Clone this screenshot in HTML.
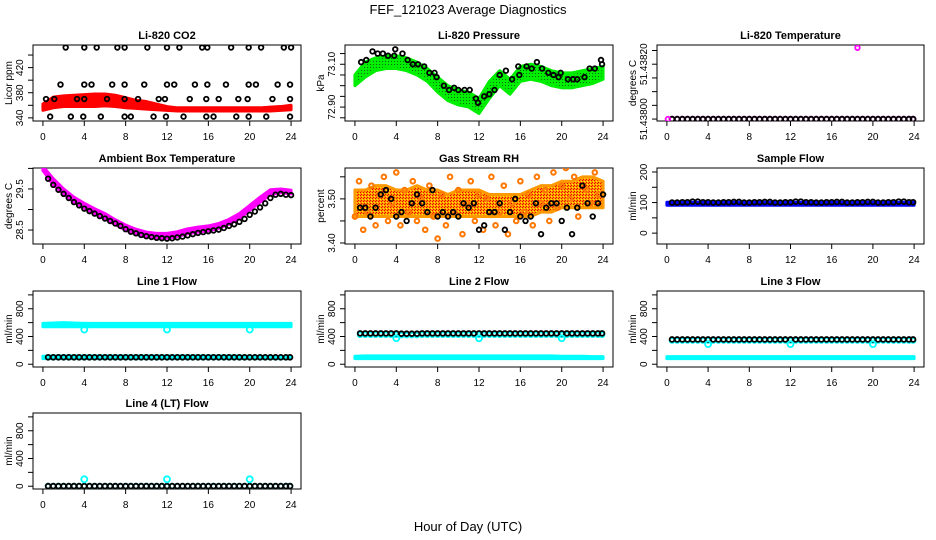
<!DOCTYPE html>
<html><head><meta charset="utf-8"><style>
html,body{margin:0;padding:0;background:#fff}
svg{display:block}
text{font-family:"Liberation Sans",sans-serif;fill:#000}
</style></head><body>
<svg id="chart" width="936" height="540" viewBox="0 0 936 540" xmlns="http://www.w3.org/2000/svg">
<defs>
<pattern id="pGreen" width="3" height="3" patternUnits="userSpaceOnUse"><rect width="3" height="3" fill="#00ee00"/><rect x="1" y="1" width="1" height="1" fill="#116611"/></pattern>
<pattern id="pRH" width="3" height="3" patternUnits="userSpaceOnUse"><rect width="3" height="3" fill="#ff9900"/><rect x="0" y="0" width="1" height="1" fill="#ee0000"/><rect x="1" y="2" width="1" height="1" fill="#ee0000"/><rect x="2" y="1" width="1" height="1" fill="#ffee00"/></pattern>
</defs>
<text x="468" y="14" font-size="13" text-anchor="middle">FEF_121023  Average Diagnostics</text>
<text x="468" y="531" font-size="13" text-anchor="middle">Hour of Day (UTC)</text>
</svg>
<script>
// ---------- data ----------
const hourTicks = [0,4,8,12,16,20,24];
const bandHours = [0,1,2,3,4,5,6,7,8,9,10,11,12,13,14,15,16,17,18,19,20,21,22,23,24];

const co2Lo = [352,356,358,358,358,358,359,358,356,355,354,353,352,351,351,351,351,351,351,351,351,351,351,352,353];
const co2Hi = [362,373,375,376,377,378,378,376,372,368,366,362,358,356,356,356,356,356,356,356,356,356,357,358,360];
const co2PtsHours = [2.2,4.0,5.2,7.2,7.9,10.1,12.0,13.2,15.4,15.9,18.2,19.9,21.1,23.3,24.0, 1.7,4.0,4.7,6.7,7.9,9.8,12.0,12.7,14.7,15.9,17.7,19.9,20.6,22.7,23.9, 0.3,1.1,3.3,4.0,6.2,7.9,9.2,11.2,11.8,14.2,15.8,17.0,18.9,19.8,22.2,23.9, 0.7,2.7,3.9,5.6,7.9,8.5,10.7,11.9,13.6,15.8,16.5,18.7,19.9,21.6,23.9];
const co2PtsVals = [452,452,452,452,452,452,452,452,452,452,452,452,452,452,452, 393,393,393,393,393,393,393,393,393,393,393,393,393,393,393, 370,370,370,370,370,370,370,370,370,370,370,370,370,370,370,370, 342,342,342,342,342,342,342,342,342,342,342,342,342,342,342];

const presLo = [73.00,73.04,73.07,73.08,73.08,73.07,73.05,73.02,72.97,72.93,72.91,72.90,72.87,72.94,73.00,72.96,73.02,73.03,73.02,73.00,72.99,72.99,73.00,73.01,73.03];
const presHi = [73.05,73.11,73.13,73.14,73.14,73.13,73.11,73.08,73.04,73.00,72.98,72.97,72.94,73.02,73.07,73.03,73.09,73.10,73.09,73.07,73.06,73.06,73.07,73.08,73.09];
const presPtsHours = [0.6,1.1,1.7,2.2,2.7,3.2,3.8,3.9,4.6,5.1,5.6,6.1,6.7,7.2,7.7,7.9,8.6,9.1,9.6,10.0,10.6,11.1,11.7,11.9,12.5,13.0,13.5,14.0,14.6,15.2,15.8,15.9,16.6,17.1,17.6,18.1,18.7,19.2,19.7,19.9,20.6,21.1,21.5,22.2,22.7,23.2,23.8,23.9];
const presPtsVals = [73.11,73.12,73.16,73.15,73.15,73.14,73.14,73.17,73.15,73.12,73.10,73.10,73.09,73.06,73.06,73.04,73.00,72.98,72.99,72.98,72.98,72.98,72.94,72.92,72.95,72.96,72.98,73.05,73.07,73.03,73.09,73.05,73.09,73.08,73.11,73.08,73.06,73.05,73.04,73.06,73.03,73.03,73.03,73.04,73.08,73.08,73.12,73.10];

const tempVals = [51.438,51.438,51.438,51.438,51.438,51.438,51.438,51.438,51.438,51.438,51.438,51.438,51.438,51.438,51.438,51.438,51.438,51.438,51.438,51.438,51.438,51.438,51.438,51.438];
const tempOutlierHours = [0.1,18.5];
const tempOutlierVals = [51.438,51.43826];

const ambLo = [29.95,29.6,29.38,29.18,29.03,28.9,28.78,28.63,28.5,28.4,28.33,28.3,28.3,28.34,28.41,28.45,28.48,28.54,28.64,28.78,28.98,29.18,29.36,29.41,29.38];
const ambHi = [30.05,29.75,29.5,29.3,29.15,29.02,28.9,28.75,28.62,28.52,28.45,28.42,28.42,28.46,28.53,28.57,28.6,28.66,28.76,28.9,29.1,29.3,29.48,29.5,29.47];
const ambPts = [29.75,29.6,29.48,29.38,29.28,29.18,29.1,29.02,28.96,28.9,28.84,28.78,28.72,28.66,28.6,28.52,28.46,28.42,28.38,28.35,28.33,28.31,28.3,28.29,28.3,28.32,28.34,28.37,28.4,28.43,28.45,28.47,28.49,28.51,28.55,28.6,28.64,28.7,28.77,28.87,28.95,29.05,29.15,29.28,29.36,29.38,29.36,29.35];

const rhLo = [3.46,3.46,3.46,3.46,3.46,3.46,3.46,3.46,3.46,3.46,3.46,3.46,3.46,3.46,3.46,3.46,3.46,3.46,3.47,3.47,3.48,3.48,3.48,3.48,3.48];
const rhHi = [3.52,3.52,3.53,3.53,3.52,3.52,3.53,3.52,3.52,3.51,3.52,3.52,3.52,3.51,3.51,3.51,3.51,3.52,3.53,3.53,3.54,3.54,3.55,3.55,3.54];
const rhScatter = [3.46,3.54,3.43,3.47,3.53,3.44,3.51,3.55,3.45,3.49,3.56,3.44,3.52,3.47,3.54,3.45,3.50,3.43,3.53,3.46,3.41,3.51,3.44,3.55,3.47,3.52,3.42,3.49,3.54,3.45,3.51,3.43,3.50,3.55,3.44,3.47,3.53,3.42,3.49,3.45,3.54,3.47,3.51,3.44,3.55,3.49,3.52,3.45,3.56,3.48,3.53,3.57,3.50,3.55,3.46,3.58,3.52,3.49,3.56,3.51];
const rhPts = [3.48,3.48,3.46,3.48,3.51,3.52,3.50,3.46,3.47,3.45,3.49,3.51,3.49,3.47,3.52,3.46,3.47,3.46,3.47,3.46,3.49,3.48,3.49,3.43,3.44,3.47,3.47,3.49,3.43,3.47,3.50,3.46,3.45,3.46,3.49,3.42,3.48,3.49,3.49,3.45,3.48,3.42,3.48,3.53,3.49,3.46,3.49,3.51];

const sampleLo = [91,91,91,91,91,91,91,91,91,91,91,91,91,91,91,91,91,91,91,91,91,91,91,91,91];
const sampleHi = [101,101,101,101,101,101,101,101,101,101,101,101,101,101,101,101,101,101,101,101,101,101,101,101,101];
const samplePts = [100,101,103,101,100,101,102,100,101,102,100,101,103,101,100,101,102,100,101,102,100,101,103,101];

const line1CyanLo = [540,540,540,540,540,540,540,540,540,540,540,540,540,540,540,540,540,540,540,540,540,540,540,540,540];
const line1CyanHi = [590,595,600,595,590,590,590,590,590,590,590,590,590,590,590,590,590,590,590,590,590,590,590,590,590];
const line1Black = [100,100,100,100,100,100,100,100,100,100,100,100,100,100,100,100,100,100,100,100,100,100,100,100];
const line2CyanLo = [80,80,80,80,80,80,80,80,80,80,80,80,80,80,80,80,80,80,80,80,80,80,80,80,80];
const line2CyanHi = [115,120,120,120,120,120,120,120,120,120,120,120,120,120,120,120,120,120,120,120,115,115,115,110,110];
const line2Black = [445,445,445,445,440,440,445,445,445,445,445,445,445,445,445,445,445,445,445,445,445,445,445,445];
const line3CyanLo = [80,80,80,80,80,80,80,80,80,80,80,80,80,80,80,80,80,80,80,80,80,80,80,80,80];
const line3CyanHi = [110,110,110,110,110,110,110,110,110,110,110,110,110,110,110,110,110,110,110,110,110,110,110,110,110];
const line3Black = [357,357,357,357,357,357,357,357,357,357,357,357,357,357,357,357,357,357,357,357,357,357,357,357];
const line4Black = [2,2,2,2,2,2,2,2,2,2,2,2,2,2,2,2,2,2,2,2,2,2,2,2];
const outlierHours = [4,12,20];
const line1Outliers = [500,500,500];
const line2Outliers = [375,375,375];
const line3Outliers = [290,290,290];
const line4Outliers = [100,100,100];

// ---------- drawing ----------
const svg = document.getElementById('chart');
const NS = 'http://www.w3.org/2000/svg';
function mk(tag, attrs, parent){ const e=document.createElementNS(NS,tag); for(const k in attrs) e.setAttribute(k,attrs[k]); (parent||svg).appendChild(e); return e; }

const cols = [[33,301],[345,613],[657,924]];
const rows = [[45,121],[168,244],[291,367],[413,489]];

function makePanel(name, c, r, ylim, ticks, labels, title, ylab){
  const [L,R] = cols[c], [T,B] = rows[r];
  const g = mk('g',{});
  
  
  const x = h => L + (h + 0.96) / 25.92 * (R - L);
  const y = v => B - (v - ylim[0]) / (ylim[1] - ylim[0]) * (B - T);
  const t = mk('text',{x:(L+R)/2, y:T-6, 'font-size':11, 'font-weight':'bold', 'text-anchor':'middle'}, g);
  t.textContent = title;
  
  
  const box = mk('rect',{x:L,y:T,width:R-L,height:B-T,fill:'none',stroke:'#000','stroke-width':1}, g);
  
  
  const xa = mk('g',{}, g);
  
  
  mk('line',{x1:x(0),x2:x(24),y1:B,y2:B,stroke:'#000'}, xa);
  hourTicks.forEach(h=>{
    mk('line',{x1:x(h),x2:x(h),y1:B,y2:B+5,stroke:'#000'}, xa);
    const tl = mk('text',{x:x(h), y:B+19, 'font-size':10, 'text-anchor':'middle'}, xa);
    tl.textContent = h;
  });
  const ya = mk('g',{}, g);
  
  
  mk('line',{x1:L,x2:L,y1:y(ticks[0]),y2:y(ticks[ticks.length-1]),stroke:'#000'}, ya);
  ticks.forEach(v=>mk('line',{x1:L-5,x2:L,y1:y(v),y2:y(v),stroke:'#000'}, ya));
  labels.forEach(([v,s])=>{
    const tl = mk('text',{x:L-10, y:y(v), 'font-size':10, 'text-anchor':'middle', transform:`rotate(-90 ${L-10} ${y(v)})`}, ya);
    tl.textContent = s;
  });
  const yl = mk('text',{x:L-21, y:(T+B)/2, 'font-size':10, 'text-anchor':'middle', transform:`rotate(-90 ${L-21} ${(T+B)/2})`}, g);
  yl.textContent = ylab;
  
  
  const clip = 'clip-'+name;
  const cp = mk('clipPath',{id:clip}, g); mk('rect',{x:L,y:T,width:R-L,height:B-T}, cp);
  const plot = mk('g',{'clip-path':`url(#${clip})`}, g);
  return {x,y,plot};
}
function band(p, lo, hi, fill, name){
  let pts = bandHours.map((h,i)=>`${p.x(h)},${p.y(hi[i])}`);
  for(let i=bandHours.length-1;i>=0;i--) pts.push(`${p.x(bandHours[i])},${p.y(lo[i])}`);
  const e = mk('polygon',{points:pts.join(' '), fill:fill, stroke:fill==='url(#pGreen)'?'#00ee00':(fill.startsWith('url')?'#ff9900':fill), 'stroke-width':3, 'stroke-linejoin':'round'}, p.plot);
  
  
}
function circles(p, hours, vals, color, name, r, sw){
  hours.forEach((h,i)=>{
    const c = mk('circle',{cx:p.x(h), cy:p.y(vals[i]), r:r||2.3, fill:'none', stroke:color, 'stroke-width':sw||1.8}, p.plot);
    
    
  });
}
function hourlyCircles(p, vals, color, name){
  vals.forEach((v,i)=>{
    [i+0.5, i+1].forEach(h=>{
      const c = mk('circle',{cx:p.x(Math.min(h,23.9)), cy:p.y(v), r:2.4, fill:'none', stroke:color, 'stroke-width':1.8}, p.plot);
      
      
    });
  });
}

let p = makePanel('co2-panel',0,0,[335,456],[340,360,380,400,420,440],[[340,'340'],[380,'380'],[420,'420']],'Li-820 CO2','Licor ppm');
band(p, co2Lo, co2Hi, '#ff0000', 'co2-band');
circles(p, co2PtsHours, co2PtsVals, '#000', 'co2-point');

p = makePanel('pressure-panel',1,0,[72.835,73.19],[72.85,72.9,72.95,73.0,73.05,73.1,73.15],[[72.9,'72.90'],[73.1,'73.10']],'Li-820 Pressure','kPa');
band(p, presLo, presHi, 'url(#pGreen)', 'pressure-band');
circles(p, presPtsHours, presPtsVals, '#000', 'pressure-point');

p = makePanel('temperature-panel',2,0,[51.437993,51.43827],[51.438,51.43805,51.4381,51.43815,51.4382,51.43825],[[51.438,'51.43800'],[51.4382,'51.43820']],'Li-820 Temperature','degrees C');
hourlyCircles(p, tempVals, '#ff00ff', 'temperature-magenta-point');
hourlyCircles(p, tempVals, '#000', 'temperature-point');
circles(p, tempOutlierHours, tempOutlierVals, '#ff00ff', 'temperature-outlier');

p = makePanel('ambient-panel',0,1,[28.16,30.01],[28.5,29.0,29.5,30.0],[[28.5,'28.5'],[29.5,'29.5']],'Ambient Box Temperature','degrees C');
band(p, ambLo, ambHi, '#ff00ff', 'ambient-band');
circles(p, ambPts.map((v,i)=>0.5+i*0.5), ambPts, '#000', 'ambient-point');

p = makePanel('rh-panel',1,1,[3.3977,3.570],[3.40,3.45,3.50,3.55],[[3.40,'3.40'],[3.50,'3.50']],'Gas Stream RH','percent');
band(p, rhLo, rhHi, 'url(#pRH)', 'rh-band');
circles(p, rhScatter.map((v,i)=>i*0.4), rhScatter, '#ff7700', 'rh-scatter', 2.3, 2);
circles(p, rhPts.map((v,i)=>0.5+i*0.5), rhPts, '#000', 'rh-point');

p = makePanel('sample-flow-panel',2,1,[-35.5,213],[0,50,100,150,200],[[0,'0'],[100,'100'],[200,'200']],'Sample Flow','ml/min');
band(p, sampleLo, sampleHi, '#0000ff', 'sample-flow-band');
hourlyCircles(p, samplePts, '#000', 'sample-flow-point');

const flowTicks=[0,200,400,600,800,1000], flowLabels=[[0,'0'],[400,'400'],[800,'800']], flowLim=[-40,1056];
p = makePanel('line1-panel',0,2,flowLim,flowTicks,flowLabels,'Line 1 Flow','ml/min');
band(p, line1CyanLo, line1CyanHi, '#00ffff', 'line1-cyan-band');
band(p, line2CyanLo, line2CyanHi, '#00ffff', 'line1-cyan-low-band');
hourlyCircles(p, line1Black, '#000', 'line1-point');
circles(p, outlierHours, line1Outliers, '#00ffff', 'line1-outlier', 3);

p = makePanel('line2-panel',1,2,flowLim,flowTicks,flowLabels,'Line 2 Flow','ml/min');
band(p, line2CyanLo, line2CyanHi, '#00ffff', 'line2-cyan-band');
hourlyCircles(p, line2Black.map(v=>v-20), '#00ffff', 'line2-cyan-point');
hourlyCircles(p, line2Black, '#000', 'line2-point');
circles(p, outlierHours, line2Outliers, '#00ffff', 'line2-outlier', 3);

p = makePanel('line3-panel',2,2,flowLim,flowTicks,flowLabels,'Line 3 Flow','ml/min');
band(p, line3CyanLo, line3CyanHi, '#00ffff', 'line3-cyan-band');
hourlyCircles(p, line3Black.map(v=>v-15), '#00ffff', 'line3-cyan-point');
hourlyCircles(p, line3Black, '#000', 'line3-point');
circles(p, outlierHours, line3Outliers, '#00ffff', 'line3-outlier', 3);

p = makePanel('line4-panel',0,3,flowLim,flowTicks,flowLabels,'Line 4 (LT) Flow','ml/min');
hourlyCircles(p, line4Black, '#00ffff', 'line4-cyan-point');
hourlyCircles(p, line4Black, '#000', 'line4-point');
circles(p, outlierHours, line4Outliers, '#00ffff', 'line4-outlier', 3);
</script>
</body></html>
